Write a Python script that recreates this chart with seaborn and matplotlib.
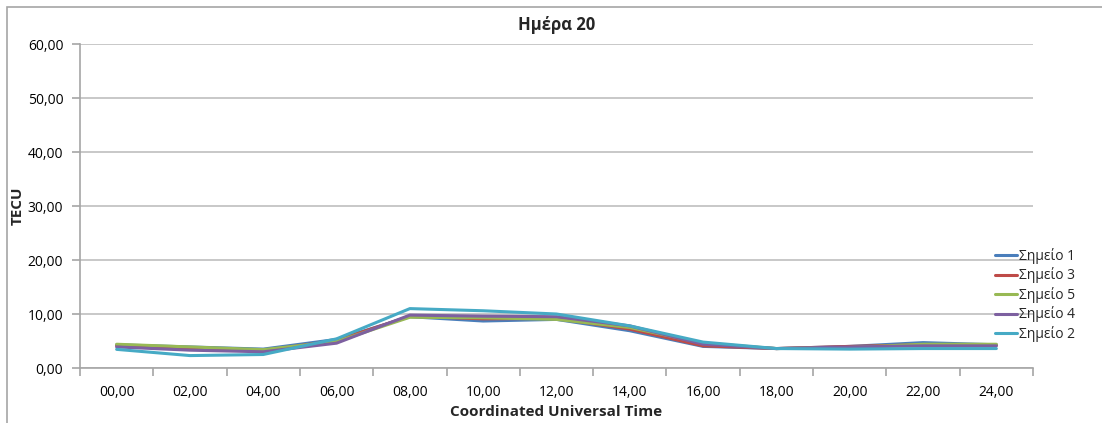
import matplotlib
matplotlib.use("Agg")
import matplotlib.pyplot as plt
import seaborn as sns
import pandas as pd
from matplotlib.ticker import FixedLocator, FuncFormatter
from matplotlib.patches import Rectangle

hours = ["00,00", "02,00", "04,00", "06,00", "08,00", "10,00", "12,00",
         "14,00", "16,00", "18,00", "20,00", "22,00", "24,00"]
s1 = [4.3, 3.9, 3.5, 5.3, 9.5, 8.7, 9.0, 6.9, 4.0, 3.6, 4.0, 4.7, 4.3]
s3 = [4.1, 3.6, 3.2, 5.1, 9.6, 9.1, 9.2, 7.2, 4.1, 3.6, 4.0, 4.3, 4.2]
s5 = [4.4, 3.9, 3.4, 4.9, 9.4, 9.3, 9.0, 7.5, 4.6, 3.6, 3.8, 4.4, 4.4]
s4 = [3.9, 3.3, 3.0, 4.6, 9.8, 9.6, 9.5, 7.8, 4.4, 3.6, 3.9, 4.1, 4.1]
s2 = [3.45, 2.3, 2.5, 5.4, 11.0, 10.6, 10.0, 7.8, 4.8, 3.6, 3.5, 3.6, 3.6]
names = ["Σημείο 1", "Σημείο 3", "Σημείο 5", "Σημείο 4", "Σημείο 2"]
series = [s1, s3, s5, s4, s2]
colors = ["#4A7EBB", "#BE4B48", "#98B954", "#7D60A0", "#46AAC5"]
yticks = [0, 10, 20, 30, 40, 50, 60]

rows = []
for n, vals in zip(names, series):
    for h, v in zip(hours, vals):
        rows.append({"time": h, "TECU": v, "series": n})
df = pd.DataFrame(rows)

sns.set_theme(style="white")
plt.rcParams["font.family"] = ["Open Sans", "DejaVu Sans"]

fig = plt.figure(figsize=(11.02, 4.23), dpi=100)
ax = fig.add_axes([80/1102, 1-368/423, (1033-80)/1102, (368-44)/423])

fig.patches.append(Rectangle((7/1102, -0.1), 1.2, 1-7/423+0.1, transform=fig.transFigure,
                             fill=False, edgecolor="#A6A6A6", linewidth=1.2, zorder=0))

sns.lineplot(data=df, x="time", y="TECU", hue="series", hue_order=names,
             palette=colors, linewidth=2.2, ax=ax, sort=False, legend=True)

ax.set_xlim(-0.5, len(hours) - 0.5)
ax.set_ylim(0, 60)
ax.set_yticks(yticks)
ax.yaxis.set_major_formatter(FuncFormatter(lambda v, p: f"{v:.2f}".replace(".", ",")))
ax.grid(axis="y", color="#BFBFBF", linewidth=1.2)
ax.set_axisbelow(True)
for sp in ["top", "right"]:
    ax.spines[sp].set_visible(False)
for sp in ["left", "bottom"]:
    ax.spines[sp].set_color("#A6A6A6")
    ax.spines[sp].set_linewidth(1.2)

ax.xaxis.set_minor_locator(FixedLocator([i - 0.5 for i in range(len(hours) + 1)]))
ax.tick_params(axis="x", which="major", length=0, labelsize=10, pad=12, colors="black")
ax.tick_params(axis="x", which="minor", length=6, width=1.2, color="#A6A6A6", bottom=True)
ax.tick_params(axis="y", which="major", length=6, width=1.2, color="#A6A6A6", left=True,
               labelsize=10, pad=6, labelcolor="black")

ax.set_xlabel("Coordinated Universal Time", fontsize=11, fontweight="bold", labelpad=4)
ax.set_ylabel("TECU", fontsize=11, fontweight="bold", labelpad=2)
ax.set_title("Ημέρα 20", fontsize=12, fontweight="bold", pad=10)

leg = ax.legend(loc="upper left", bbox_to_anchor=(995/1102, 1-248/423), bbox_transform=fig.transFigure,
                frameon=False, fontsize=10, handlelength=1.6, handletextpad=0.1,
                labelspacing=0.25, borderaxespad=0, borderpad=0)
for line in leg.get_lines():
    line.set_linewidth(2.2)

fig.savefig("out.png", dpi=100)
